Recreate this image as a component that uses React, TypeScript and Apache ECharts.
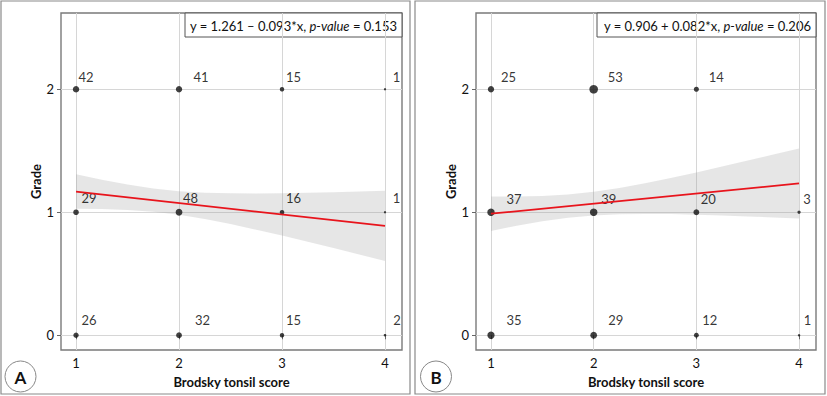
import React, { useEffect, useRef } from "react";
import * as echarts from "echarts";

// ---------- data ----------
const tonsilScores = [1, 2, 3, 4];
const gradeLevels = [2, 1, 0];
const xTickLabels = ["1", "2", "3", "4"];
const yTickLabels = ["0", "1", "2"];

// counts per grade row (2,1,0) x tonsil score (1..4)
const countsA = [
  [42, 41, 15, 1],
  [29, 48, 16, 1],
  [26, 32, 15, 2],
];
const countsB = [
  [25, 53, 14, 0],
  [37, 39, 20, 3],
  [35, 29, 12, 1],
];

// fitted regression line end points (x = 1 and x = 4)
const fitXs = [1, 4];
const fitA = [1.168, 0.889];
const fitB = [0.988, 1.234];

// confidence band
const bandX = [1, 1.25, 1.5, 1.75, 2, 2.25, 2.5, 2.75, 3, 3.25, 3.5, 3.75, 4];
const bandUpperA = [1.309, 1.264, 1.225, 1.193, 1.171, 1.159, 1.154, 1.152, 1.154, 1.158, 1.163, 1.168, 1.174];
const bandLowerA = [1.028, 1.026, 1.019, 1.004, 0.979, 0.945, 0.904, 0.858, 0.81, 0.76, 0.709, 0.656, 0.604];
const bandUpperB = [1.129, 1.128, 1.132, 1.144, 1.166, 1.198, 1.236, 1.279, 1.324, 1.372, 1.42, 1.47, 1.519];
const bandLowerB = [0.848, 0.89, 0.926, 0.955, 0.974, 0.984, 0.986, 0.985, 0.98, 0.974, 0.966, 0.958, 0.949];

const equationA = "y = 1.261 – 0.093*x, ";
const equationB = "y = 0.906 + 0.082*x, ";
const pValueA = "0.153";
const pValueB = "0.206";
const panelLetters = ["A", "B"];
const xAxisTitle = "Brodsky tonsil score";
const yAxisTitle = "Grade";

// ---------- styling (label nudges in px, per row / column) ----------
const labelNudgeA = [
  [[10, -12], [22, -12], [11.5, -12], [11.5, -12]],
  [[13, -14], [11.5, -14], [11.5, -14], [11.5, -14]],
  [[13, -15], [23.5, -15], [11.5, -15], [12, -15]],
];
const labelNudgeB = [
  [[17.5, -12], [21.5, -12], [20, -12], [10, -12]],
  [[23, -13], [15, -13], [12, -13], [8, -13]],
  [[23, -15], [22, -15], [13.5, -15], [8.5, -15]],
];

const FONT = "Lato, 'Open Sans', sans-serif";
const TEXT = "#111";

function sizeScale(counts: number[][], rMin: number, rMax: number) {
  const flat = counts.flat().filter((v) => v > 0);
  const lo = Math.sqrt(Math.min(...flat));
  const hi = Math.sqrt(Math.max(...flat));
  return (n: number) => rMin + ((Math.sqrt(n) - lo) / (hi - lo)) * (rMax - rMin);
}

function pointData(counts: number[][], nudges: number[][][], size: (n: number) => number) {
  const data: any[] = [];
  const offs: number[][] = [];
  gradeLevels.forEach((g, r) => {
    tonsilScores.forEach((x, c) => {
      const n = counts[r][c];
      if (n <= 0) return;
      data.push({ value: [x, g, n], symbolSize: size(n) });
      offs.push(nudges[r][c]);
    });
  });
  return { data, offs };
}

function bandSeries(idx: number, upper: number[], lower: number[]) {
  return {
    type: "custom",
    xAxisIndex: idx,
    yAxisIndex: idx,
    z: 1,
    silent: true,
    data: bandX.map((x, i) => [x, lower[i], upper[i]]),
    encode: { x: 0, y: [1, 2] },
    renderItem: (params: any, api: any) => {
      if (params.dataIndex !== 0) return null;
      const top = bandX.map((x, i) => api.coord([x, upper[i]]));
      const bottom = bandX.map((x, i) => api.coord([x, lower[i]])).reverse();
      return {
        type: "polygon",
        shape: { points: top.concat(bottom) },
        style: { fill: "rgba(150,150,150,0.24)", stroke: "none" },
      };
    },
  };
}

function makeAxes(idx: number) {
  const x = {
    type: "value",
    gridIndex: idx,
    min: 0.854,
    max: 4.165,
    name: xAxisTitle,
    nameLocation: "middle",
    nameGap: 25,
    nameTextStyle: { fontFamily: FONT, fontWeight: "bold", fontSize: 13, color: TEXT },
    axisLine: { show: false },
    axisTick: {
      show: true,
      length: 4,
      customValues: tonsilScores,
      lineStyle: { color: "#666", width: 1 },
    },
    axisLabel: {
      customValues: tonsilScores,
      formatter: (v: number) => xTickLabels[tonsilScores.indexOf(v)] ?? "",
      fontFamily: FONT,
      fontSize: 13,
      color: TEXT,
      margin: 6,
    },
    splitLine: { show: true, lineStyle: { color: "#d6d6d6", width: 1 } },
  };
  const yVals = [0, 1, 2];
  const y = {
    type: "value",
    gridIndex: idx,
    min: -0.12,
    max: 2.62,
    name: yAxisTitle,
    nameLocation: "middle",
    nameGap: 19,
    nameTextStyle: { fontFamily: FONT, fontWeight: "bold", fontSize: 13, color: TEXT },
    axisLine: { show: false },
    axisTick: {
      show: true,
      length: 4,
      customValues: yVals,
      lineStyle: { color: "#666", width: 1 },
    },
    axisLabel: {
      customValues: yVals,
      formatter: (v: number) => yTickLabels[yVals.indexOf(v)] ?? "",
      fontFamily: FONT,
      fontSize: 13,
      color: TEXT,
      margin: 7,
    },
    splitLine: { show: true, lineStyle: { color: "#d6d6d6", width: 1 } },
  };
  return { x, y };
}

function equationBox(left: number, right: number, eq: string, p: string) {
  return {
    type: "group",
    z: 100,
    children: [
      {
        type: "rect",
        shape: { x: left, y: 13, width: right - left, height: 24 },
        style: { fill: "#fff", stroke: "#555", lineWidth: 1 },
      },
      {
        type: "text",
        x: right - 5,
        y: 25.5,
        style: {
          text: eq + "{i|p-value} = " + p,
          rich: { i: { fontStyle: "italic", fontFamily: FONT, fontSize: 13, fill: TEXT } },
          fontFamily: FONT,
          fontSize: 13,
          fill: TEXT,
          align: "right",
          verticalAlign: "middle",
        },
      },
    ],
  };
}

function letterBadge(cx: number, letter: string) {
  return {
    type: "group",
    children: [
      {
        type: "circle",
        shape: { cx, cy: 376.5, r: 15.5 },
        style: { fill: "#fff", stroke: "#888", lineWidth: 1 },
      },
      {
        type: "text",
        x: cx,
        y: 377,
        style: {
          text: letter,
          fontFamily: FONT,
          fontWeight: "bold",
          fontSize: 17,
          fill: "#111",
          align: "center",
          verticalAlign: "middle",
        },
      },
    ],
  };
}

export default function App() {
  const ref = useRef<HTMLDivElement>(null);
  useEffect(() => {
    document.body.style.margin = "0";
    if (!ref.current) return;
    const chart = echarts.init(ref.current, undefined, { renderer: "svg" });
    const axA = makeAxes(0);
    const axB = makeAxes(1);
    const sizeA = sizeScale(countsA, 2.3, 6.8);
    const sizeB = sizeScale(countsB, 2.5, 8.6);

    const scatter = (idx: number, counts: number[][], nudges: number[][][], size: any) => {
      const { data, offs } = pointData(counts, nudges, size);
      return {
        type: "scatter",
        xAxisIndex: idx,
        yAxisIndex: idx,
        z: 2,
        symbol: "circle",
        itemStyle: { color: "#111" },
        data,
        label: {
          show: true,
          position: "inside",
          formatter: (p: any) => String(p.value[2]),
          fontFamily: FONT,
          fontSize: 13,
          color: "#000",
          textBorderWidth: 0,
          textBorderColor: "transparent",
          align: "center",
          verticalAlign: "middle",
        },
        labelLayout: (p: any) => {
          const o = offs[p.dataIndex] || [0, 0];
          return { dx: o[0], dy: o[1], hideOverlap: false };
        },
      };
    };

    const fit = (idx: number, ys: number[]) => ({
      type: "line",
      xAxisIndex: idx,
      yAxisIndex: idx,
      z: 3,
      symbol: "none",
      silent: true,
      lineStyle: { color: "#e8141c", width: 1.8 },
      data: fitXs.map((x, i) => [x, ys[i]]),
    });

    chart.setOption({
      animation: false,
      backgroundColor: "#fff",
      grid: [
        { left: 61, top: 13, width: 341, height: 337, show: true, borderColor: "#7a7a7a", borderWidth: 1.4, backgroundColor: "transparent" },
        { left: 476, top: 13, width: 340, height: 337, show: true, borderColor: "#7a7a7a", borderWidth: 1.4, backgroundColor: "transparent" },
      ],
      xAxis: [axA.x, axB.x],
      yAxis: [axA.y, axB.y],
      series: [
        bandSeries(0, bandUpperA, bandLowerA),
        bandSeries(1, bandUpperB, bandLowerB),
        fit(0, fitA),
        fit(1, fitB),
        scatter(0, countsA, labelNudgeA, sizeA),
        scatter(1, countsB, labelNudgeB, sizeB),
      ],
      graphic: [
        {
          type: "rect",
          z: -10,
          shape: { x: 1, y: 1, width: 409, height: 393 },
          style: { fill: "none", stroke: "#8a8a8a", lineWidth: 1.2 },
        },
        {
          type: "rect",
          z: -10,
          shape: { x: 415, y: 1, width: 410, height: 393 },
          style: { fill: "none", stroke: "#8a8a8a", lineWidth: 1.2 },
        },
        equationBox(185, 402, equationA, pValueA),
        equationBox(597, 816, equationB, pValueB),
        letterBadge(20.5, panelLetters[0]),
        letterBadge(436, panelLetters[1]),
      ],
    });
    return () => chart.dispose();
  }, []);
  return <div ref={ref} style={{ width: 827, height: 396 }} />;
}
